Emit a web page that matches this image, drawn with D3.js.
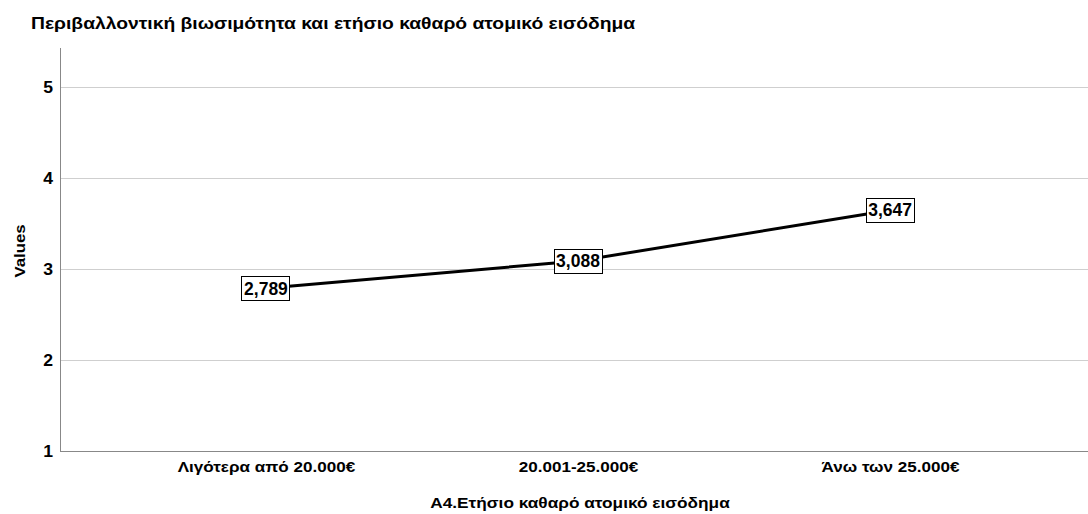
<!DOCTYPE html>
<html><head><meta charset="utf-8">
<script src="https://cdn.jsdelivr.net/npm/d3@7"></script>
<style>body{margin:0;background:#fff}svg{display:block;font-family:"Liberation Sans",Arial,sans-serif}</style>
</head><body><svg id="c" width="1088" height="514"></svg>
<script>
const categories = ["Λιγότερα από 20.000€", "20.001-25.000€", "Άνω των 25.000€"];
const values = [2.789, 3.088, 3.647];
const valueLabels = ["2,789", "3,088", "3,647"];
const yTicks = [1, 2, 3, 4, 5];
const title = "Περιβαλλοντική βιωσιμότητα και ετήσιο καθαρό ατομικό εισόδημα";
const xTitle = "A4.Ετήσιο καθαρό ατομικό εισόδημα";
const yTitle = "Values";

const svg = d3.select("#c");
const mLeft = 60, mRight = 1096, mTop = 47, mBottom = 451;
const x = d3.scalePoint().domain(categories).range([mLeft, mRight]).padding(0.66);
const y = d3.scaleLinear().domain([1, 5.44]).range([mBottom, mTop]);

// horizontally widened text helper (keeps real text)
function wide(sel, sx) {
  sel.each(function () {
    const t = d3.select(this);
    const x0 = +(t.attr("x") || 0);
    t.attr("x", x0 / sx);
    const tr = t.attr("transform") || "";
    t.attr("transform", tr + ` scale(${sx},1)`);
  });
}

const title$ = svg.append("text").attr("x", 31).attr("y", 29).attr("font-size", 16.5).attr("font-weight", "bold").attr("fill", "#000").text(title);
wide(title$, 1.17);

// gridlines
svg.append("g").selectAll("line").data(yTicks.slice(1)).join("line")
  .attr("x1", mLeft).attr("x2", 1088).attr("y1", d => y(d)).attr("y2", d => y(d))
  .attr("stroke", "#cfcfcf").attr("stroke-width", 1).attr("shape-rendering", "crispEdges");

// y axis
const ya = svg.append("g").attr("transform", `translate(${mLeft},0)`).call(d3.axisLeft(y).tickValues(yTicks).tickSize(0).tickPadding(7).tickFormat(d3.format("d")));
ya.select(".domain").attr("stroke", "#888").attr("shape-rendering", "crispEdges");
ya.selectAll("text").attr("font-size", 16).attr("font-weight", "bold").attr("fill", "#000").attr("font-family", "Liberation Sans, Arial, sans-serif");
wide(ya.selectAll("text"), 1.1);

// x axis
const xa = svg.append("g").attr("transform", `translate(0,${mBottom})`).call(d3.axisBottom(x).tickSize(0).tickPadding(11));
xa.select(".domain").remove();
svg.append("line").attr("x1", mLeft).attr("x2", 1088).attr("y1", mBottom).attr("y2", mBottom).attr("stroke", "#888").attr("shape-rendering", "crispEdges");
xa.selectAll("text").attr("font-size", 14).attr("font-weight", "bold").attr("fill", "#000").attr("font-family", "Liberation Sans, Arial, sans-serif");
wide(xa.selectAll("text"), 1.22);

const xt = svg.append("text").attr("x", 580).attr("y", 508.5).attr("text-anchor", "middle").attr("font-size", 15).attr("font-weight", "bold").text(xTitle);
wide(xt, 1.15);
svg.append("text").attr("transform", `translate(25,251) rotate(-90) scale(1.2,1)`).attr("text-anchor", "middle").attr("font-size", 14).attr("font-weight", "bold").text(yTitle);

// line
const line = d3.line().x((d, i) => x(categories[i])).y(d => y(d));
svg.append("path").datum(values).attr("d", line).attr("fill", "none").attr("stroke", "#000").attr("stroke-width", 3);

// labels
const lg = svg.append("g").selectAll("g").data(values).join("g")
  .attr("transform", (d, i) => `translate(${x(categories[i])},${y(d)})`);
lg.append("rect").attr("x", -24).attr("y", -12).attr("width", 48).attr("height", 24).attr("fill", "#fff").attr("stroke", "#000").attr("stroke-width", 1).attr("shape-rendering", "crispEdges");
lg.append("text").attr("text-anchor", "middle").attr("dy", "0.36em").attr("font-size", 17.5).attr("font-weight", "bold").text((d, i) => valueLabels[i]);
</script></body></html>
